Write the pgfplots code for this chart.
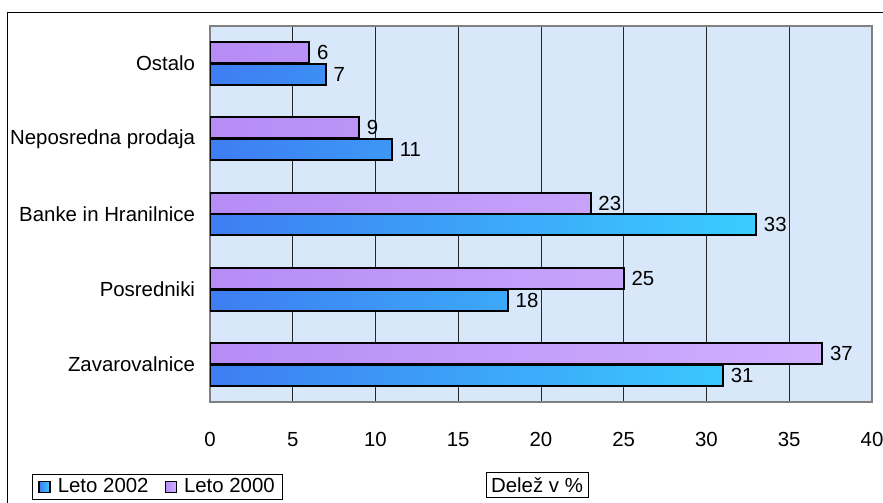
\documentclass[border=0pt]{standalone}
\usepackage{fontspec}
\setmainfont{Liberation Sans}
\usepackage{pgfplots}
\pgfplotsset{compat=1.18}
\definecolor{bgblue}{RGB}{216,231,250}
\definecolor{bnewl}{RGB}{62,125,242}
\definecolor{bnewr}{RGB}{58,205,255}
\definecolor{boldl}{RGB}{182,140,245}
\definecolor{boldr}{RGB}{208,176,255}
\begin{document}
\fontsize{20.4bp}{24bp}\selectfont
\begin{tikzpicture}[font=\fontsize{20.4bp}{24bp}\selectfont]
\begin{axis}[
  at={(210bp,101bp)}, anchor=south west,
  scale only axis, width=662bp, height=376bp,
  xbar, bar width=0.28,
  xmin=0, xmax=40, ymin=-0.5, ymax=4.5,
  xtick={0,5,...,40}, ytick={0,1,2,3,4},
  yticklabels={Zavarovalnice,Posredniki,Banke in Hranilnice,Neposredna prodaja,Ostalo},
  major tick length=0,
  /pgf/number format/assume math mode=true,
  xmajorgrids, grid style={black!85, line width=0.8bp},
  axis background/.style={fill=bgblue},
  axis line style={draw=gray, line width=2bp},
  x tick label style={yshift=-23bp},
  y tick label style={xshift=-8bp},
  nodes near coords,
  every node near coord/.append style={anchor=west, text=black},
  xlabel={Delež v \%},
  xlabel style={at={(axis description cs:0.494,-0.186)}, anchor=north, draw=black, line width=0.8bp, inner sep=5bp},
  legend columns=2,
  legend style={at={(axis description cs:-0.269,-0.1915)}, anchor=north west, draw=black, line width=0.8bp, fill=white,
    inner xsep=6bp,
    /tikz/every odd column/.append style={column sep=5bp},
    /tikz/every even column/.append style={column sep=14bp}},
  legend image code/.code={\draw[#1, line width=1.5bp] (0bp,-5.5bp) rectangle (11bp,5.5bp);},
]
\addplot[bar shift=-0.145, draw=black, line width=2bp, left color=bnewl, right color=bnewr]
  coordinates {(31,0) (18,1) (33,2) (11,3) (7,4)};
\addlegendentry{Leto 2002}
\addplot[bar shift=0.145, draw=black, line width=2bp, left color=boldl, right color=boldr]
  coordinates {(37,0) (25,1) (23,2) (9,3) (6,4)};
\addlegendentry{Leto 2000}
\end{axis}
\draw[line width=1bp] (7bp,-20bp) |- (903bp,490bp);
\pgfresetboundingbox
\path[use as bounding box] (0,0) rectangle (883bp,503bp);
\end{tikzpicture}
\end{document}
